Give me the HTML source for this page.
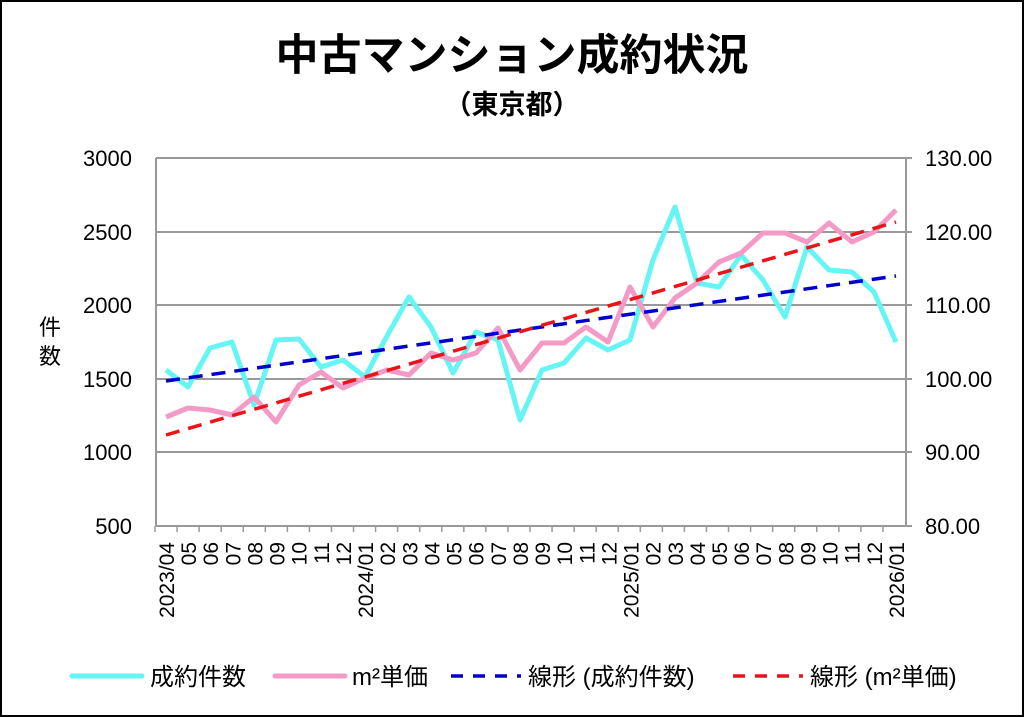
<!DOCTYPE html>
<html><head><meta charset="utf-8"><style>
body{margin:0;background:#fff;}
svg{display:block;font-family:"Liberation Sans","Noto Sans CJK JP",sans-serif;}
</style></head><body>
<svg width="1024" height="717" xmlns="http://www.w3.org/2000/svg">
<rect x="1" y="1" width="1022" height="715" fill="#fff" stroke="#000" stroke-width="2"/>
<text x="512" y="70" text-anchor="middle" font-size="43" font-weight="bold" font-family="'Noto Sans CJK JP',sans-serif">中古マンション成約状況</text>
<text x="512" y="114" text-anchor="middle" font-size="27" font-weight="bold" font-family="'Noto Sans CJK JP',sans-serif">（東京都）</text>
<g stroke="#999" stroke-width="2">
<line x1="156" y1="158" x2="906" y2="158"/>
<line x1="156" y1="232" x2="906" y2="232"/>
<line x1="156" y1="305" x2="906" y2="305"/>
<line x1="156" y1="379" x2="906" y2="379"/>
<line x1="156" y1="452" x2="906" y2="452"/>
<line x1="156" y1="526" x2="906" y2="526"/>
<line x1="156" y1="158" x2="156" y2="526"/>
<line x1="906" y1="158" x2="906" y2="526"/>
<line x1="906" y1="158" x2="912" y2="158"/><line x1="906" y1="232" x2="912" y2="232"/><line x1="906" y1="305" x2="912" y2="305"/><line x1="906" y1="379" x2="912" y2="379"/><line x1="906" y1="452" x2="912" y2="452"/><line x1="906" y1="526" x2="912" y2="526"/>
</g>
<g stroke="#999" stroke-width="1.5" id="ticks"></g>
<g font-size="22" text-anchor="end">
<text x="132" y="166">3000</text><text x="132" y="240">2500</text><text x="132" y="313">2000</text><text x="132" y="387">1500</text><text x="132" y="460">1000</text><text x="132" y="534">500</text>
</g>
<g font-size="22">
<text x="925" y="166">130.00</text><text x="925" y="240">120.00</text><text x="925" y="313">110.00</text><text x="925" y="387">100.00</text><text x="925" y="460">90.00</text><text x="925" y="534">80.00</text>
</g>
<text x="50" y="335" text-anchor="middle" font-size="22">件</text>
<text x="50" y="364" text-anchor="middle" font-size="22">数</text>
<g id="xl" font-size="21"></g>
<polyline fill="none" stroke="#66f5f5" stroke-width="5" stroke-linejoin="round" points="166,370 188,387 210,348 232,342 254,405 276,340 299,339 321,367 343,360 365,377 387,336 409,297 431,327 453,373 476,332 498,340 520,420 542,370 564,363 586,338 608,350 630,340 653,260 675,207 697,283 719,287 741,255 763,280 785,317 807,247 829,270 852,272 874,292 896,342"/>
<polyline fill="none" stroke="#f49ac6" stroke-width="5" stroke-linejoin="round" points="166,417 188,408 210,410 232,415 254,397 276,422 299,385 321,372 343,388 365,378 387,370 409,375 431,353 453,360 476,353 498,328 520,370 542,343 564,343 586,327 608,342 630,287 653,327 675,298 697,283 719,262 741,253 763,233 785,233 807,242 829,223 852,242 874,232 896,210"/>
<line x1="166" y1="381" x2="896" y2="276" stroke="#0000cc" stroke-width="3.5" stroke-dasharray="14,9"/>
<line x1="166" y1="435" x2="896" y2="222" stroke="#e8141a" stroke-width="3.5" stroke-dasharray="14,9"/>
<g font-size="24">
<line x1="72" y1="676" x2="142" y2="676" stroke="#66f5f5" stroke-width="5" stroke-linecap="round"/>
<text x="150" y="685">成約件数</text>
<line x1="275" y1="676" x2="345" y2="676" stroke="#f49ac6" stroke-width="5" stroke-linecap="round"/>
<text x="352" y="685">m²単価</text>
<line x1="451" y1="676" x2="521" y2="676" stroke="#0000cc" stroke-width="3.5" stroke-dasharray="12,10"/>
<text x="528" y="685">線形 (成約件数)</text>
<line x1="733" y1="676" x2="803" y2="676" stroke="#e8141a" stroke-width="3.5" stroke-dasharray="12,10"/>
<text x="810" y="685">線形 (m²単価)</text>
</g>
<script>
var labs=["2023/04","05","06","07","08","09","10","11","12","2024/01","02","03","04","05","06","07","08","09","10","11","12","2025/01","02","03","04","05","06","07","08","09","10","11","12","2026/01"];
var ns="http://www.w3.org/2000/svg",xl=document.getElementById("xl"),tk=document.getElementById("ticks");
for(var i=0;i<34;i++){var x=166+22.12*i;
var t=document.createElementNS(ns,"text");t.setAttribute("transform","translate("+(x+8)+",542) rotate(-90)");t.setAttribute("text-anchor","end");t.textContent=labs[i];xl.appendChild(t);
var l=document.createElementNS(ns,"line");var tx=155+i*(750/34);l.setAttribute("x1",tx);l.setAttribute("x2",tx);l.setAttribute("y1",526);l.setAttribute("y2",532);tk.appendChild(l);}
</script>
</svg>
</body></html>
